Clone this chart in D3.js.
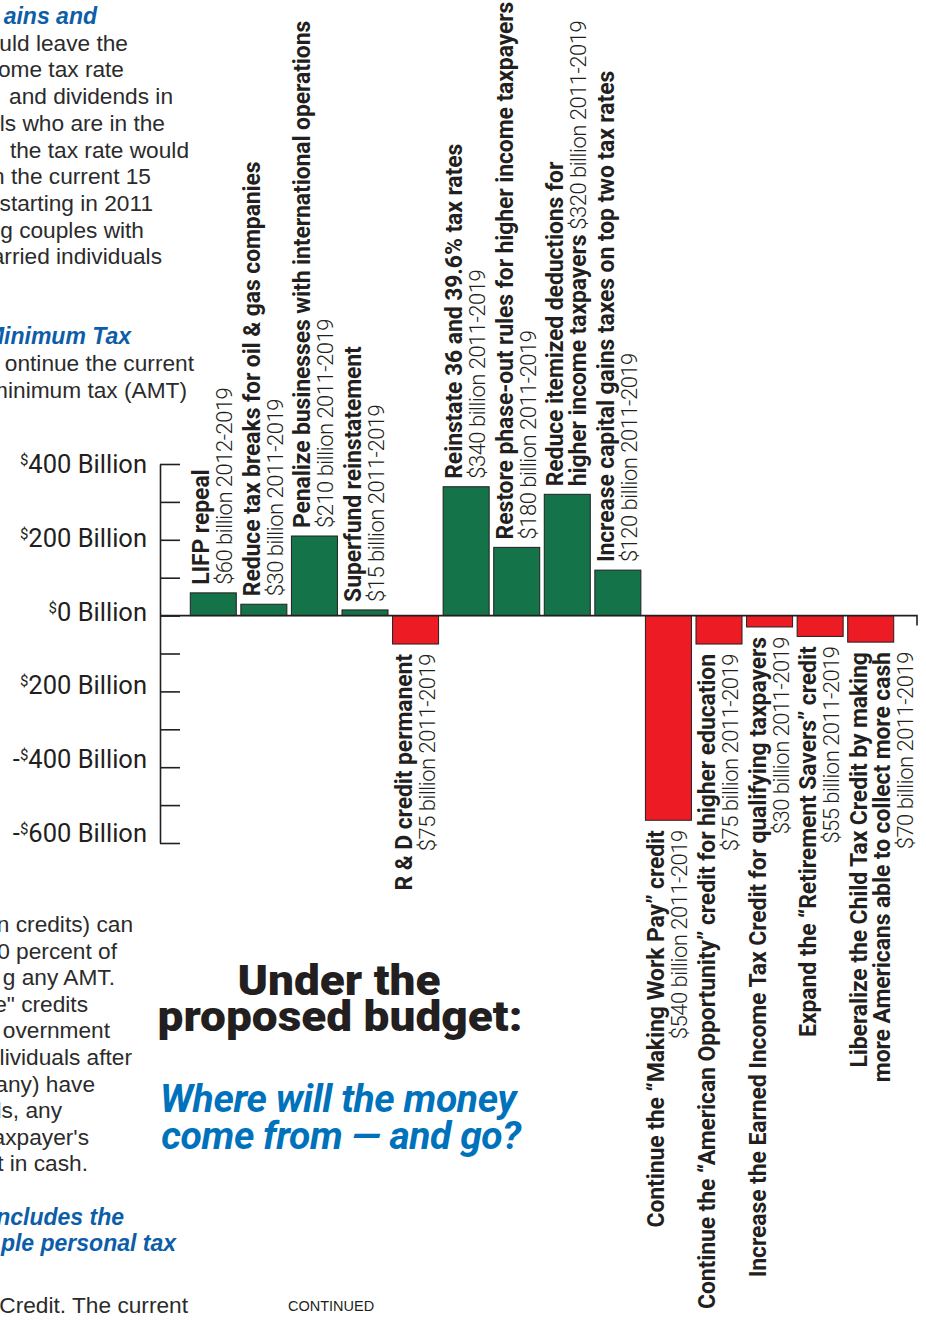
<!DOCTYPE html>
<html><head><meta charset="utf-8">
<script src="https://cdn.jsdelivr.net/npm/d3@7"></script>
<style>
html,body{margin:0;padding:0;background:#fff;}
svg{display:block;}
</style></head>
<body>
<svg id="chart" width="926" height="1321"></svg>
<script>
// ---------- data ----------
const categories = [
  ["LIFP repeal"],
  ["Reduce tax breaks for oil & gas companies"],
  ["Penalize businesses with international operations"],
  ["Superfund reinstatement"],
  ["R & D credit permanent"],
  ["Reinstate 36 and 39.6% tax rates"],
  ["Restore phase-out rules for higher income taxpayers"],
  ["Reduce itemized deductions for", "higher income taxpayers"],
  ["Increase capital gains taxes on top two tax rates"],
  ["Continue the \u201CMaking Work Pay\u201D credit"],
  ["Continue the \u201CAmerican Opportunity\u201D credit for higher education"],
  ["Increase the Earned Income Tax Credit for qualifying taxpayers"],
  ["Expand the \u201CRetirement Savers\u201D credit"],
  ["Liberalize the Child Tax Credit by making", "more Americans able to collect more cash"]
];
const amountLabels = [
  "$60 billion 2012-2019", "$30 billion 2011-2019", "$210 billion 2011-2019",
  "$15 billion 2011-2019", "$75 billion 2011-2019", "$340 billion 2011-2019",
  "$180 billion 2011-2019", "$320 billion 2011-2019", "$120 billion 2011-2019",
  "$540 billion 2011-2019", "$75 billion 2011-2019", "$30 billion 2011-2019",
  "$55 billion 2011-2019", "$70 billion 2011-2019"
];
const values = [60, 30, 210, 15, -75, 340, 180, 320, 120, -540, -75, -30, -55, -70];
const inlineAmount = [7];   // bars whose amount sits on the last bold line

const tickValues  = [400, 200, 0, -200, -400, -600];
const tickPrefix  = ["", "", "", "", "-", "-"];
const tickNumbers = ["400 Billion", "200 Billion", "0 Billion", "200 Billion", "400 Billion", "600 Billion"];
const minorTickValues = d3.range(-600, 401, 100);

const topText = [
  {t:"ains and", h:true}, {t:"uld leave the"}, {t:"ome tax rate"}, {t:" and dividends in"},
  {t:"ls who are in the"}, {t:" the tax rate would"}, {t:"n the current 15"}, {t:"starting in 2011"},
  {t:"g couples with"}, {t:"arried individuals"}, null, null,
  {t:"Minimum Tax", h:true}, {t:"ontinue the current"}, {t:"minimum tax (AMT)"}
];
const topRight = [97,128,124,173,165,189,151,153,144,162,0,0,131,194,187];
const bottomText = [
  {t:"n credits) can"}, {t:"0 percent of"}, {t:"g any AMT."}, {t:"e\" credits"},
  {t:"overnment"}, {t:"lividuals after"}, {t:"any) have"}, {t:"ls, any"},
  {t:"axpayer's"}, {t:"t in cash."}, null,
  {t:"ncludes the", h:true}, {t:"ple personal tax", h:true}
];
const bottomRight = [133,117,115,88,110,132,95,62,89,88,0,124,176];

// ---------- setup ----------
const svg = d3.select("#chart");
const ink = "#231f20";
const green = "#15734a", red = "#ed1c24";

const y = d3.scaleLinear().domain([-600, 400]).range([843, 464]);
// tick labels in the original drift slightly upward relative to the ticks
const yLabel = d3.scaleLinear().domain([-600, 400]).range([833, 464]);
const x = d3.scaleBand().domain(d3.range(values.length))
  .range([188, 896]).paddingInner(0.09).paddingOuter(0.045);

// ---------- side text ----------
function block(lines, rights, y0, lh) {
  lines.forEach((d, i) => {
    if (!d) return;
    svg.append("text")
      .attr("x", rights[i]).attr("y", y0 + i * lh)
      .attr("text-anchor", "end")
      .attr("font-family", "'Liberation Sans', Arial, sans-serif")
      .attr("font-size", d.h ? 23 : 22.7)
      .attr("font-weight", d.h ? 700 : 400)
      .attr("font-style", d.h ? "italic" : "normal")
      .attr("fill", d.h ? "#0d5ea8" : "#2b2b2b")
      .attr("xml:space", "preserve")
      .text(d.t);
  });
}
block(topText, topRight, 24, 26.7);
block(bottomText, bottomRight, 932, 26.6);
svg.append("text").attr("x", 188).attr("y", 1313).attr("text-anchor", "end")
  .attr("font-family", "'Liberation Sans', Arial, sans-serif").attr("font-size", 22.7)
  .attr("fill", "#2b2b2b").text("Credit. The current");

// ---------- axis ----------
const axis = d3.axisRight(y).tickValues(minorTickValues).tickSize(20).tickSizeOuter(0).tickFormat("");
const ag = svg.append("g").attr("transform", "translate(160,0)").call(axis);
ag.select(".domain").attr("stroke", ink).attr("stroke-width", 1.6);
ag.selectAll(".tick line").attr("stroke", ink).attr("stroke-width", 1.6);

const tl = svg.append("g").selectAll("text").data(tickValues).join("text")
  .attr("x", 147).attr("y", d => yLabel(d) + 9)
  .attr("text-anchor", "end")
  .attr("font-family", "Roboto, 'Open Sans', sans-serif")
  .attr("font-size", 25.5).attr("fill", ink);
tl.append("tspan").text((d, i) => tickPrefix[i]);
tl.append("tspan").attr("font-size", 15).attr("dy", -8).text("$");
tl.append("tspan").attr("dy", 8).text((d, i) => tickNumbers[i]);

// ---------- bars ----------
svg.append("g").selectAll("rect").data(values).join("rect")
  .attr("x", (d, i) => x(i))
  .attr("width", x.bandwidth())
  .attr("y", d => Math.min(y(d), y(0)))
  .attr("height", d => Math.abs(y(d) - y(0)))
  .attr("fill", d => d >= 0 ? green : red)
  .attr("stroke", ink).attr("stroke-width", 1);

// zero line
svg.append("path")
  .attr("d", `M160,${y(0)}H917V${y(0) + 10}`)
  .attr("fill", "none").attr("stroke", ink).attr("stroke-width", 1.6);

// ---------- bar labels ----------
values.forEach((v, i) => {
  const pos = v >= 0;
  const ay = pos ? y(v) - 8 : y(v) + 10;
  const g = svg.append("g").attr("transform", `translate(${x(i)},${ay}) rotate(-90)`);
  const lines = categories[i];
  const inline = inlineAmount.includes(i);
  lines.forEach((ln, k) => {
    const t = g.append("text")
      .attr("x", 0).attr("y", 19 + 23 * k)
      .attr("text-anchor", pos ? "start" : "end")
      .attr("font-family", "Roboto, sans-serif")
      .attr("fill", ink);
    t.append("tspan").attr("font-size", 23).attr("font-weight", 700)
      .attr("letter-spacing", -0.12).text(ln);
    if (inline && k === lines.length - 1) {
      t.append("tspan").attr("font-size", 22).attr("font-weight", 300)
        .attr("letter-spacing", -0.5).text(" " + amountLabels[i]);
    }
  });
  if (!inline) {
    g.append("text")
      .attr("x", 0).attr("y", 19 + 23 * lines.length)
      .attr("text-anchor", pos ? "start" : "end")
      .attr("font-family", "Roboto, sans-serif")
      .attr("font-size", 22).attr("font-weight", 300)
      .attr("letter-spacing", -0.5)
      .attr("fill", ink)
      .text(amountLabels[i]);
  }
});

// ---------- title ----------
const title = svg.append("g").attr("font-family", "Roboto, sans-serif")
  .attr("font-weight", 900).attr("font-size", 43).attr("fill", ink)
  .attr("text-anchor", "middle");
title.append("text").attr("transform", "translate(339,995) scale(1.07,1)").text("Under the");
title.append("text").attr("transform", "translate(340,1031) scale(1.07,1)").text("proposed budget:");

const sub = svg.append("g").attr("font-family", "Roboto, sans-serif")
  .attr("font-weight", 700).attr("font-style", "italic").attr("font-size", 39)
  .attr("fill", "#0072bc").attr("text-anchor", "middle").attr("letter-spacing", -0.4);
sub.append("text").attr("x", 338).attr("y", 1112).text("Where will the money");
sub.append("text").attr("x", 341).attr("y", 1149).text("come from \u2014 and go?");

svg.append("text").attr("x", 288).attr("y", 1311)
  .attr("font-family", "'Liberation Sans', Arial, sans-serif")
  .attr("font-size", 14.5).attr("fill", ink).text("CONTINUED");
</script>
</body></html>
